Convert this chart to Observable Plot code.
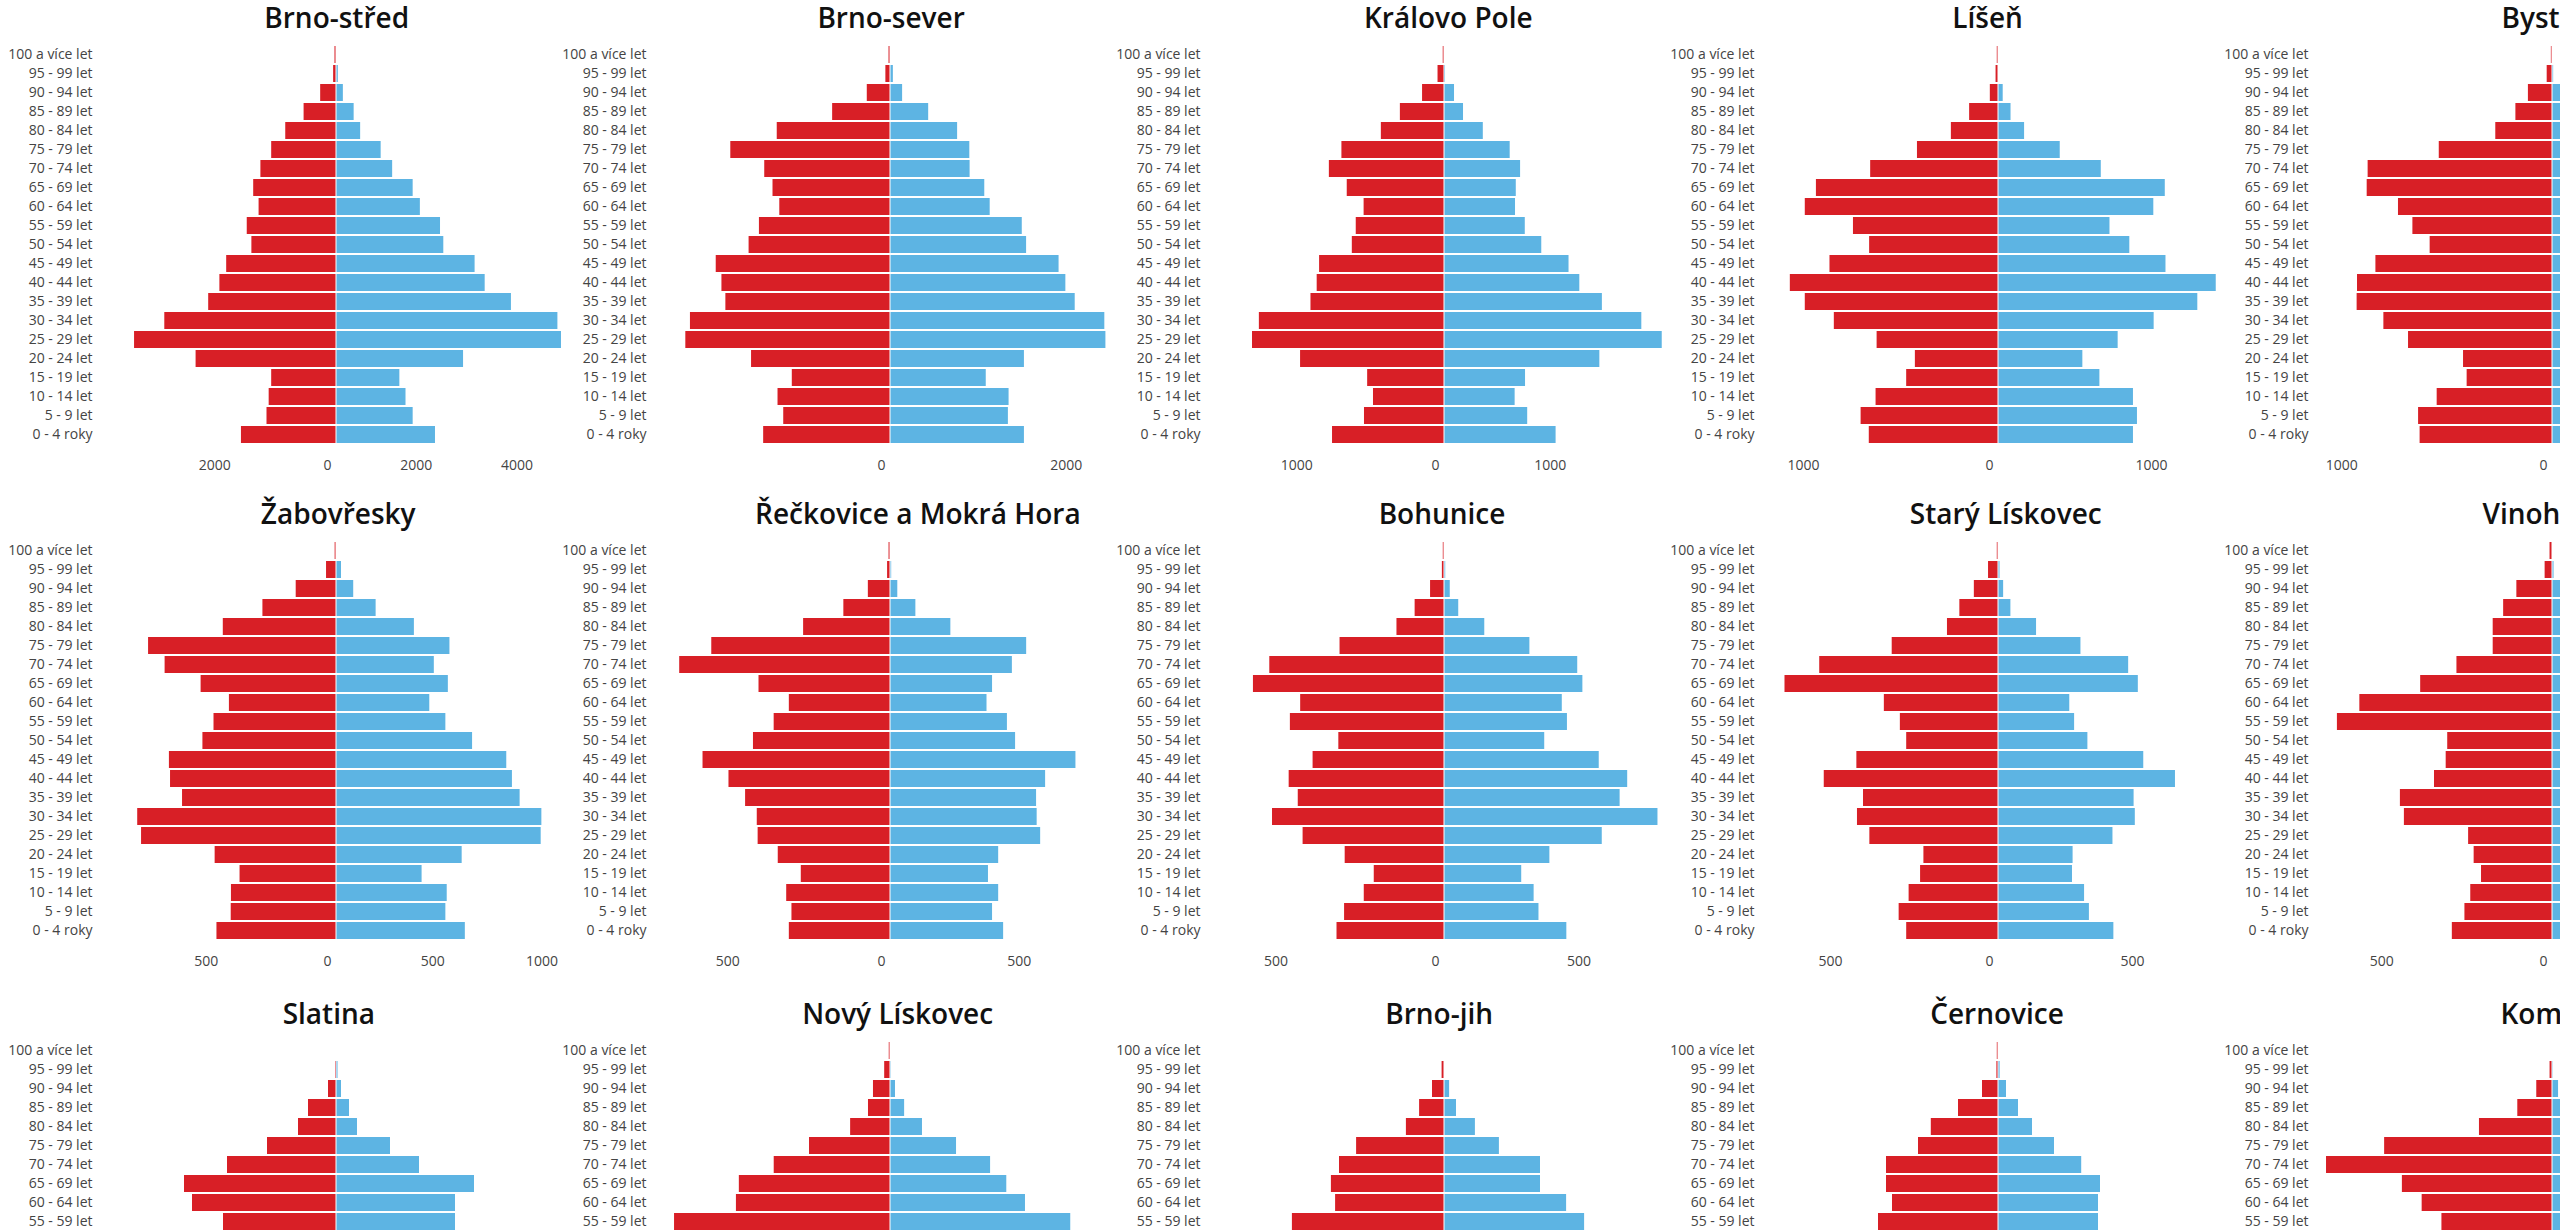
<!DOCTYPE html>
<html><head><meta charset="utf-8">
<script src="https://cdn.jsdelivr.net/npm/d3@7"></script>
<script src="https://cdn.jsdelivr.net/npm/@observablehq/plot@0.6"></script>
<style>
html,body{margin:0;padding:0;background:#fff;overflow:hidden;width:2560px;height:1232px;}
#page{position:relative;width:2560px;height:1232px;overflow:hidden;}
.title{position:absolute;text-align:center;font-family:"Open Sans",sans-serif;font-weight:600;font-size:28px;line-height:34px;color:#111;white-space:nowrap;}
.panel{position:absolute;}
</style></head><body><div id="page"></div>
<script>
// Age groups, top to bottom
const ageGroups = ["100 a více let","95 - 99 let","90 - 94 let","85 - 89 let","80 - 84 let","75 - 79 let","70 - 74 let","65 - 69 let","60 - 64 let","55 - 59 let","50 - 54 let","45 - 49 let","40 - 44 let","35 - 39 let","30 - 34 let","25 - 29 let","20 - 24 let","15 - 19 let","10 - 14 let","5 - 9 let","0 - 4 roky"];

const districts = ["Brno-střed","Brno-sever","Královo Pole","Líšeň","Bystrc","Žabovřesky","Řečkovice a Mokrá Hora","Bohunice","Starý Lískovec","Vinohrady","Slatina","Nový Lískovec","Brno-jih","Černovice","Komín"];

// ženy (red, left) / muži (blue, right), same order as ageGroups
const brnoStredZeny = [30,57,314,643,1007,1286,1500,1643,1536,1771,1679,2179,2314,2536,3407,4007,2786,1286,1336,1379,1886];
const brnoStredMuzi = [5,36,136,350,479,886,1114,1521,1664,2064,2129,2750,2950,3471,4393,4464,2521,1257,1379,1521,1964];
const brnoSeverZeny = [15,47,236,588,1151,1623,1278,1194,1125,1332,1437,1771,1713,1673,2033,2080,1412,998,1143,1085,1289];
const brnoSeverMuzi = [3,29,123,388,682,806,809,958,1013,1339,1383,1713,1782,1877,2178,2189,1361,973,1205,1198,1361];
const kralovoPoleZeny = [10,51,173,348,498,809,908,767,634,696,727,985,1004,1053,1460,1514,1135,606,560,631,883];
const kralovoPoleMuzi = [2,8,79,150,306,518,600,566,560,637,767,982,1067,1245,1556,1717,1225,639,557,656,880];
const lisenZeny = [7,14,47,166,271,466,735,1047,1111,834,741,969,1197,1111,944,698,478,528,704,790,743];
const lisenMuzi = [1,2,27,72,150,355,591,959,893,641,755,963,1252,1146,895,688,485,583,776,799,776];
const bystrcZeny = [6,28,127,193,299,597,972,977,812,736,645,931,1028,1030,889,759,469,450,608,706,698];
const bystrcMuzi = [1,6,45,90,170,430,800,880,760,700,640,900,1150,1180,900,750,480,470,640,740,720];
const zabovreskyZeny = [6,44,178,325,500,830,757,598,473,541,590,738,733,680,878,861,536,426,464,465,528];
const zabovreskyMuzi = [1,22,76,175,344,501,432,494,412,483,601,752,777,811,907,904,555,378,489,483,569];
const reckoviceZeny = [5,10,76,160,298,613,723,451,347,399,470,643,554,497,457,454,385,306,356,338,347];
const reckoviceMuzi = [1,4,25,87,207,467,418,350,331,401,429,636,532,501,503,515,371,336,371,350,388];
const bohuniceZeny = [4,7,46,97,157,345,577,631,475,509,349,434,513,483,568,467,328,232,265,330,355];
const bohuniceMuzi = [1,4,19,47,133,282,440,457,389,406,331,511,605,580,705,521,348,255,296,312,404];
const staryLiskovecZeny = [4,33,80,128,169,352,592,707,378,325,304,469,577,447,467,426,247,258,296,329,304];
const staryLiskovecMuzi = [1,5,17,41,126,273,431,463,236,252,296,481,586,449,453,379,247,245,285,301,382];
const vinohradyZeny = [8,24,116,159,193,193,311,429,627,700,341,346,384,495,482,273,255,231,266,285,326];
const vinohradyMuzi = [1,5,27,70,120,150,240,360,560,690,330,360,420,520,500,290,270,240,280,300,340];
const slatinaZeny = [1,2,16,56,76,138,218,304,288,226,224,300,390,420,360,250,200,190,230,260,250];
const slatinaMuzi = [0,3,10,26,42,108,166,276,238,238,254,320,410,430,370,240,210,200,240,270,260];
const novyLiskovecZeny = [3,14,41,53,96,195,280,364,371,520,487,400,380,420,430,350,280,250,290,310,300];
const novyLiskovecMuzi = [0,2,12,34,77,159,241,280,325,434,335,380,400,440,450,370,290,260,300,320,315];
const brnoJihZeny = [1,8,40,83,127,293,350,377,363,507,480,560,680,700,690,560,400,330,380,420,440];
const brnoJihMuzi = [0,1,17,40,103,183,320,320,407,467,500,590,700,717,690,580,420,350,400,440,460];
const cernoviceZeny = [3,4,40,100,168,200,280,280,265,300,310,400,500,520,480,380,300,260,300,340,330];
const cernoviceMuzi = [0,4,20,50,85,140,208,255,250,250,300,410,516,537,470,370,310,270,310,350,340];
const kominZeny = [0,6,39,86,181,416,560,372,323,274,250,330,400,420,380,300,250,230,260,290,280];
const kominMuzi = [0,2,15,40,110,280,420,300,280,260,250,340,420,440,400,310,260,240,270,300,290];

const zenyList = [brnoStredZeny,brnoSeverZeny,kralovoPoleZeny,lisenZeny,bystrcZeny,zabovreskyZeny,reckoviceZeny,bohuniceZeny,staryLiskovecZeny,vinohradyZeny,slatinaZeny,novyLiskovecZeny,brnoJihZeny,cernoviceZeny,kominZeny];
const muziList = [brnoStredMuzi,brnoSeverMuzi,kralovoPoleMuzi,lisenMuzi,bystrcMuzi,zabovreskyMuzi,reckoviceMuzi,bohuniceMuzi,staryLiskovecMuzi,vinohradyMuzi,slatinaMuzi,novyLiskovecMuzi,brnoJihMuzi,cernoviceMuzi,kominMuzi];

// x tick values per district (labels shown as absolute values)
const tickList = [
  [-2000,0,2000,4000],[0,2000],[-1000,0,1000],[-1000,0,1000],[-1000,0,1000],
  [-500,0,500,1000],[-500,0,500],[-500,0,500],[-500,0,500],[-500,0,500],
  [-200,0,200],[-500,0,500],[-500,0,500],[-500,0,500],[-500,0,500]
];
// symmetric x-domain extent per district
const xMaxList = [4524,2317,1798,1311,1202,1007,782,753,755,742,456,549,760,570,565];

const RED = "#d81f26", BLUE = "#5db4e3";
const page = document.getElementById("page");
const rowLabel0 = [46, 541.7, 1041.7];

districts.forEach((name, i) => {
  const row = Math.floor(i / 5), col = i % 5;
  const zero = 336 + col * 554;
  const H = 228, ml = 99, mr = 36;
  const left = zero - ml - H;
  const width = ml + 2 * H + mr;
  const zeny = zenyList[i], muzi = muziList[i], ticks = tickList[i];
  const M = xMaxList[i];
  const women = ageGroups.map((g, k) => ({age: g, value: -zeny[k]}));
  const men = ageGroups.map((g, k) => ({age: g, value: muzi[k]}));
  const svgTop = rowLabel0[row] - 13.9;

  const chart = Plot.plot({
    width, height: 450,
    marginLeft: ml, marginRight: mr, marginTop: 4, marginBottom: 30,
    style: {fontFamily: "'Open Sans', sans-serif", fontSize: "14px", color: "#444", background: "transparent", overflow: "visible", maxWidth: "none"},
    x: {domain: [-M, M]},
    y: {domain: ageGroups, paddingInner: 0.12, paddingOuter: 0.06},
    marks: [
      Plot.barX(women, {x: "value", y: "age", fill: RED, insetRight: 0.5}),
      Plot.barX(men, {x: "value", y: "age", fill: BLUE, insetLeft: 0.5}),
      Plot.axisY({tickSize: 0, tickPadding: ml - 83, label: null}),
      Plot.axisX(ticks, {tickSize: 0, tickPadding: 8, textAnchor: "end", dx: -5, label: null, tickFormat: d => String(Math.abs(d))})
    ]
  });
  const wrap = document.createElement("div");
  wrap.className = "panel";
  wrap.style.left = left + "px";
  wrap.style.top = svgTop + "px";
  wrap.appendChild(chart);
  page.appendChild(wrap);

  const t = document.createElement("div");
  t.className = "title";
  t.textContent = name;
  t.style.top = (rowLabel0[row] - 28 - 17.85) + "px";
  page.appendChild(t);
  const w = t.getBoundingClientRect().width;
  const c = zero + 0.15 * (w - 140);
  t.style.left = (c - w / 2) + "px";
});
</script></body></html>
